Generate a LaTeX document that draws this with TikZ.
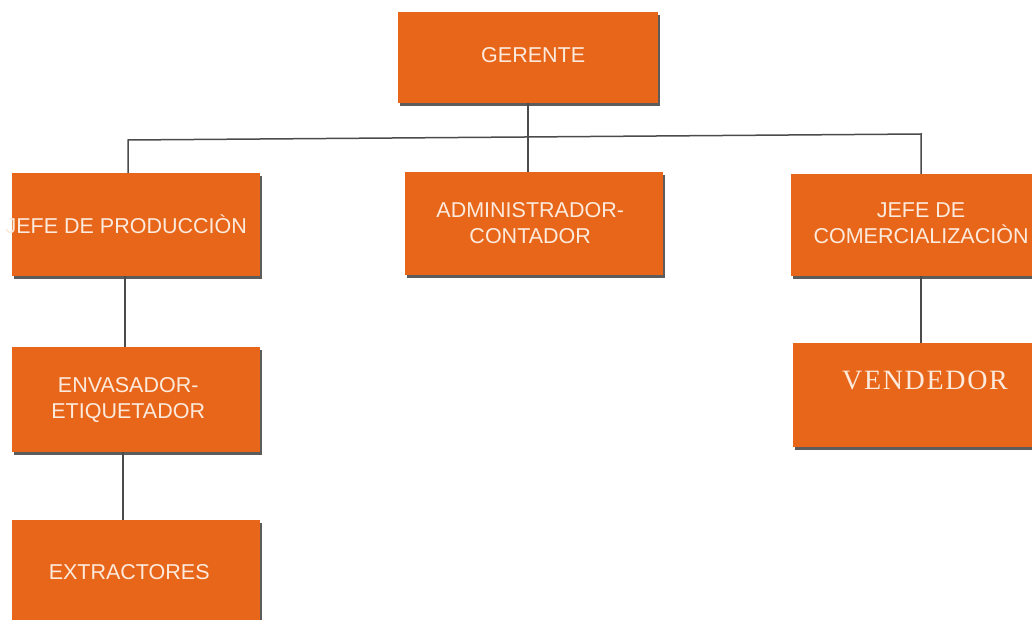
\documentclass[tikz,border=0pt]{standalone}
\usepackage{fontspec}
\setmainfont{Liberation Sans}
\newfontfamily\vfont[LetterSpace=6]{Liberation Serif}
\usetikzlibrary{shadows}
\definecolor{org}{RGB}{232,102,26}
\definecolor{txt}{RGB}{252,234,220}
\definecolor{ln}{RGB}{75,75,75}
\begin{document}
\begin{tikzpicture}[x=1pt,y=-1pt,
  box/.style={fill=org, anchor=north west, inner sep=0pt,
    drop shadow={shadow xshift=2pt,shadow yshift=-3pt,fill=black!75,opacity=0.85}},
  lbl/.style={text=txt, font=\fontsize{21.5}{26}\selectfont, align=center, inner sep=0pt},
  conn/.style={draw=ln, line width=1.5pt}]
\useasboundingbox (0,0) rectangle (1032,620);
\clip (0,0) rectangle (1032,620);
\fill[white] (0,0) rectangle (1032,620);
% boxes
\node[box, minimum width=260pt, minimum height=91pt] (ger) at (398,12) {};
\node[box, minimum width=248pt, minimum height=103pt] (prod) at (12,173) {};
\node[box, minimum width=258pt, minimum height=103pt] (adm) at (405,172) {};
\node[box, minimum width=261pt, minimum height=102pt] (com) at (791,174) {};
\node[box, minimum width=248pt, minimum height=105pt] (env) at (12,347) {};
\node[box, minimum width=259pt, minimum height=104pt] (ven) at (793,343) {};
\node[box, minimum width=248pt, minimum height=103pt] (ext) at (12,520) {};
% labels
\node[lbl] (gert) at ([xshift=5pt,yshift=3pt]ger.center) {GERENTE};
\node[lbl] (prodt) at ([xshift=-10pt]prod.center) {JEFE DE PRODUCCIÒN};
\node[lbl] (admt) at ([xshift=-4pt,yshift=1pt]adm.center) {ADMINISTRADOR-\\CONTADOR};
\node[lbl] (comt) at ([yshift=2pt]com.center -| 921,0) {JEFE DE\\COMERCIALIZACIÒN};
\node[lbl] (envt) at ([xshift=-8pt]env.center) {ENVASADOR-\\ETIQUETADOR};
\node[text=txt, inner sep=0pt, font=\vfont\fontsize{28}{32}\selectfont] (vent) at ([yshift=15pt]ven.center -| 925,0) {VENDEDOR};
\node[lbl] (extt) at ([xshift=-7pt]ext.center) {EXTRACTORES};
% connectors
\coordinate (jl) at (128,140);
\coordinate (jr) at (921,134);
\draw[conn] (ger.south) -- (ger.south |- adm.north);
\draw[conn] (prod.north -| jl) -- (jl) -- (jr) -- (com.north -| jr);
\draw[conn] (prod.south -| 125,0) -- (env.north -| 125,0);
\draw[conn] (env.south -| 123,0) -- (ext.north -| 123,0);
\draw[conn] (com.south -| 921,0) -- (ven.north -| 921,0);
\end{tikzpicture}
\end{document}
